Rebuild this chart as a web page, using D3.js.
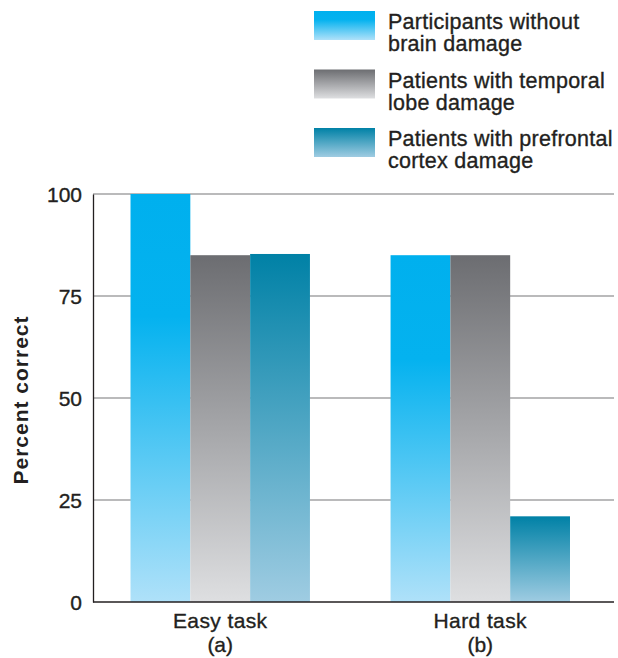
<!DOCTYPE html>
<html><head><meta charset="utf-8">
<script src="https://cdn.jsdelivr.net/npm/d3@7"></script>
<style>body{margin:0;background:#fff}svg{display:block}text{font-family:"Liberation Sans",Arial,sans-serif;fill:#231f20}.m{stroke:#231f20;stroke-width:0.35px}</style>
</head><body>
<svg id="c" width="618" height="658"></svg>
<script>
const categories = ["Easy task", "Hard task"];
const categorySub = ["(a)", "(b)"];
const seriesNames = [["Participants without", "brain damage"], ["Patients with temporal", "lobe damage"], ["Patients with prefrontal", "cortex damage"]];
const noDamage = [100, 85];
const temporal = [85, 85];
const prefrontal = [85.3, 21];
const yTicks = [0, 25, 50, 75, 100];
const yTitle = "Percent correct";

const series = [noDamage, temporal, prefrontal];
const grads = [
  [["0", "#00b0ee"], ["0.3", "#04b2ef"], ["1", "#afe1f9"]],
  [["0", "#6c6d71"], ["1", "#dedfe1"]],
  [["0", "#0081a6"], ["1", "#9fcce2"]]
];

const svg = d3.select("#c");
const defs = svg.append("defs");
grads.forEach((g, i) => {
  const lg = defs.append("linearGradient").attr("id", "g" + i).attr("x1", 0).attr("y1", 0).attr("x2", 0).attr("y2", 1);
  g.forEach(s => lg.append("stop").attr("offset", s[0]).attr("stop-color", s[1]));
});

const x0 = 93, x1 = 614;
const x = d3.scaleBand().domain(categories).range([x0 - 1.5, 609]).paddingInner(0.31).paddingOuter(0.15);
const xs = d3.scaleBand().domain([0, 1, 2]).range([0, x.bandwidth()]);
const y = d3.scaleLinear().domain([0, 100]).range([602, 194]);

// gridlines
svg.append("g").selectAll("line").data(yTicks.filter(t => t > 0)).join("line")
  .attr("x1", x0).attr("x2", x1).attr("y1", d => y(d)).attr("y2", d => y(d))
  .attr("stroke", "#a3a3a5").attr("stroke-width", 1.6);

// bars
categories.forEach((c, ci) => {
  series.forEach((s, si) => {
    svg.append("rect")
      .attr("x", x(c) + xs(si)).attr("width", xs.bandwidth())
      .attr("y", y(s[ci])).attr("height", y(0) - y(s[ci]))
      .attr("fill", `url(#g${si})`);
  });
});

// y axis
const ya = d3.axisLeft(y).tickValues(yTicks).tickSize(0).tickPadding(11);
const yg = svg.append("g").attr("transform", `translate(${x0},0)`).call(ya);
yg.select(".domain").attr("stroke", "#231f20").attr("stroke-width", 1.3);
yg.selectAll("text").attr("font-size", 21).attr("fill", "#231f20").attr("class", "m")
  .attr("font-family", '"Liberation Sans",Arial,sans-serif').attr("dy", "0.34em");

// x axis
const xa = d3.axisBottom(x).tickSize(0).tickFormat(() => "");
const xg = svg.append("g").attr("transform", `translate(0,${y(0)})`).call(xa);
xg.select(".domain").attr("d", `M${x0},0H${x1}`).attr("stroke", "#231f20").attr("stroke-width", 1.5);
categories.forEach((c, i) => {
  const cx = x(c) + x.bandwidth() / 2;
  svg.append("text").attr("class", "m").attr("x", cx).attr("y", 628).attr("text-anchor", "middle").attr("font-size", 21).attr("letter-spacing", 0.4).text(c);
  svg.append("text").attr("class", "m").attr("x", cx).attr("y", 652).attr("text-anchor", "middle").attr("font-size", 21).text(categorySub[i]);
});

// y title
svg.append("text").attr("transform", "translate(28,400) rotate(-90)").attr("text-anchor", "middle")
  .attr("font-size", 21).attr("font-weight", "bold").attr("letter-spacing", 1).text(yTitle);

// legend
seriesNames.forEach((n, i) => {
  const top = 11 + i * 58.5;
  svg.append("rect").attr("x", 314).attr("y", top).attr("width", 61).attr("height", 29).attr("fill", `url(#g${i})`);
  n.forEach((line, li) => {
    svg.append("text").attr("class", "m").attr("x", 388).attr("y", top + 18 + li * 22).attr("font-size", 21.5).attr("letter-spacing", 0.25).text(line);
  });
});
</script>
</body></html>
